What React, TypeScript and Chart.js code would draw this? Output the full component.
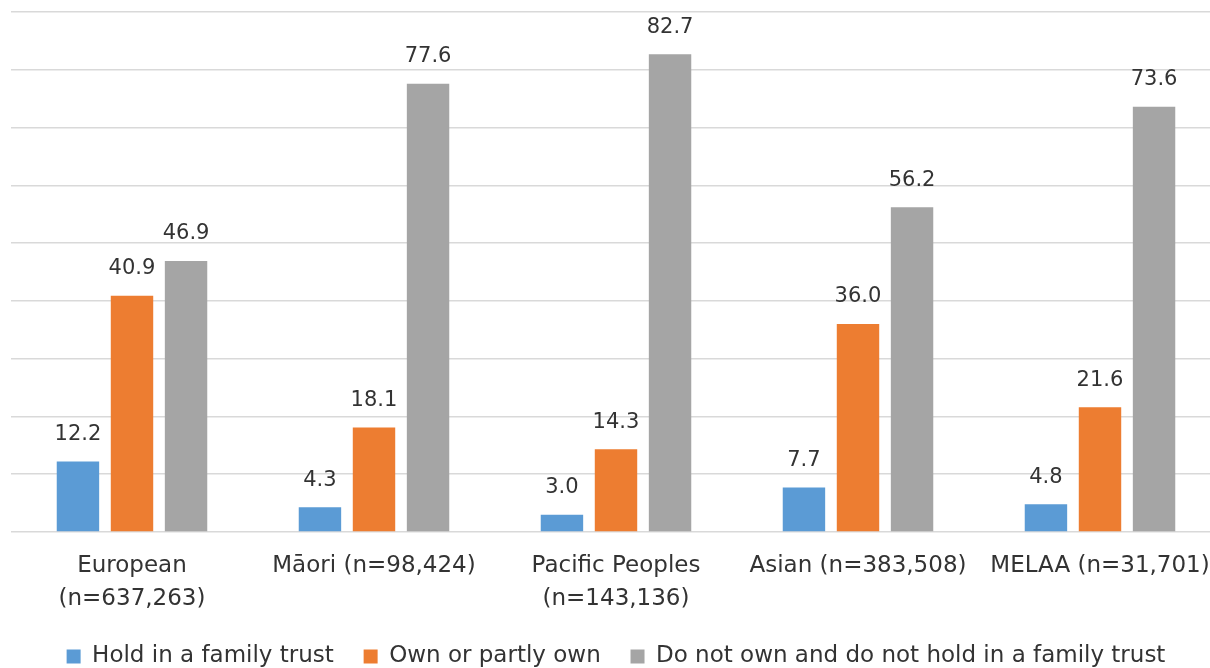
import React, { useEffect, useRef } from "react";
import { Chart, registerables } from "chart.js";

Chart.register(...registerables);

const categories: (string | string[])[] = [
  ["European", "(n=637,263)"],
  "Māori (n=98,424)",
  ["Pacific Peoples", "(n=143,136)"],
  "Asian (n=383,508)",
  "MELAA (n=31,701)",
];

const familyTrust = [12.2, 4.3, 3.0, 7.7, 4.8];
const ownOrPartlyOwn = [40.9, 18.1, 14.3, 36.0, 21.6];
const doNotOwn = [46.9, 77.6, 82.7, 56.2, 73.6];

const seriesNames = [
  "Hold in a family trust",
  "Own or partly own",
  "Do not own and do not hold in a family trust",
];

const FONT = "'DejaVu Sans', sans-serif";
const TEXT = "#333333";

// Writes each bar's value above it.
const valueLabels = {
  id: "valueLabels",
  afterDatasetsDraw(chart: Chart) {
    const ctx = chart.ctx;
    ctx.save();
    ctx.font = `21px ${FONT}`;
    ctx.fillStyle = TEXT;
    ctx.textAlign = "center";
    ctx.textBaseline = "middle";
    chart.data.datasets.forEach((ds, di) => {
      const meta = chart.getDatasetMeta(di);
      meta.data.forEach((bar: any, i) => {
        const v = ds.data[i] as number;
        ctx.fillText(v.toFixed(1), bar.x, bar.y - 27);
      });
    });
    ctx.restore();
  },
};

export default function App() {
  const ref = useRef<HTMLCanvasElement>(null);

  useEffect(() => {
    document.body.style.margin = "0";
    document.body.style.overflow = "hidden";
    const chart = new Chart(ref.current!, {
      type: "bar",
      data: {
        labels: categories,
        datasets: [
          { label: seriesNames[0], data: familyTrust, backgroundColor: "#5B9BD5" },
          { label: seriesNames[1], data: ownOrPartlyOwn, backgroundColor: "#ED7D31" },
          { label: seriesNames[2], data: doNotOwn, backgroundColor: "#A5A5A5" },
        ],
      },
      options: {
        responsive: false,
        animation: false,
        devicePixelRatio: 1,
        layout: { padding: { left: 11, right: 0, top: 12, bottom: 0 } },
        datasets: {
          bar: { categoryPercentage: 0.67, barPercentage: 0.785 },
        },
        scales: {
          x: {
            grid: { display: false, drawTicks: false },
            border: { display: false },
            ticks: {
              color: TEXT,
              font: { family: FONT, size: 23, lineHeight: 1.435 },
              padding: 18,
              maxRotation: 0,
              autoSkip: false,
            },
            // the plot runs edge to edge; labels fit inside their categories
            afterFit(scale: any) {
              scale.paddingLeft = 0;
              scale.paddingRight = 0;
            },
          },
          y: {
            min: 0,
            max: 90,
            ticks: { display: false, stepSize: 10 },
            grid: { color: "#D9D9D9", lineWidth: 1.5, drawTicks: false },
            border: { display: false },
          },
        },
        plugins: {
          legend: {
            position: "bottom",
            labels: {
              color: TEXT,
              font: { family: FONT, size: 23 },
              boxWidth: 14,
              boxHeight: 14,
              padding: 11,
              // extra trailing room keeps the entries spread apart
              generateLabels(c: Chart) {
                const items = Chart.defaults.plugins.legend.labels.generateLabels(c);
                return items.map((it, i) =>
                  i < items.length - 1 ? { ...it, text: it.text + "\u2002 " } : it
                );
              },
            },
          },
          tooltip: { enabled: false },
        },
      },
      plugins: [valueLabels],
    });
    return () => chart.destroy();
  }, []);

  return (
    <div style={{ position: "fixed", left: 0, top: 0, width: 1221, height: 678 }}>
      <canvas ref={ref} width={1221} height={678} />
    </div>
  );
}
